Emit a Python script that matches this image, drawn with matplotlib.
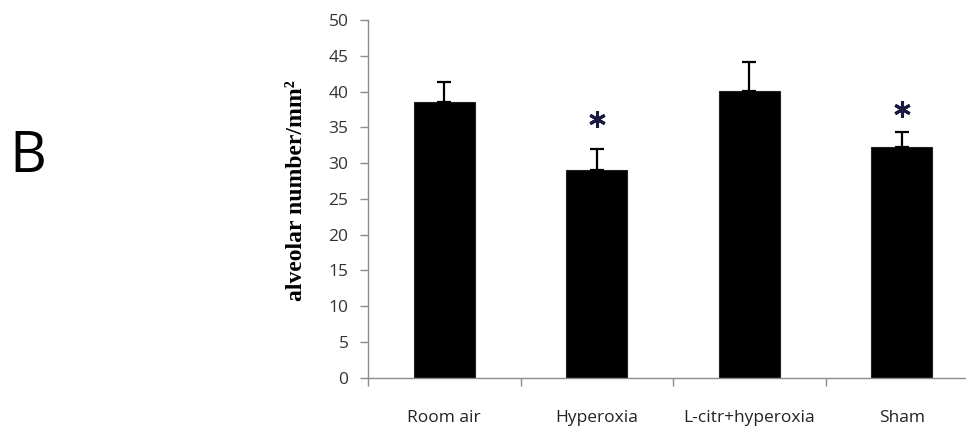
import numpy as np
import matplotlib.pyplot as plt
from matplotlib.ticker import FixedLocator, NullFormatter

groups = ['Room air', 'Hyperoxia', 'L-citr+hyperoxia', 'Sham']
means = [38.6, 29.1, 40.1, 32.3]
errs = [2.7, 2.9, 4.0, 2.0]
stars = [np.nan, 36.2, np.nan, 37.6]
yticks = np.arange(0, 51, 5)

plt.rcParams['font.family'] = ['Open Sans', 'DejaVu Sans']

fig = plt.figure(figsize=(9.66, 4.28), dpi=100)
ax = fig.add_axes([368/966, 50.3/428, 610/966, 357.7/428])

x = np.arange(len(groups)) + 0.5
ax.bar(x, means, width=0.4, color='black', edgecolor='#222222', linewidth=0.8, zorder=2)
ax.errorbar(x, means, yerr=[np.zeros(len(errs)), errs], fmt='none', ecolor='black',
            elinewidth=1.6, capsize=5, capthick=1.6, zorder=3)
ax.plot(x, stars, linestyle='none', marker=(6, 2, 0), markersize=12,
        markeredgewidth=2.2, color='#1a1a40', zorder=4)

ax.set_xlim(0, 4)
ax.set_ylim(0, 50)
ax.set_yticks(yticks)
ax.set_yticklabels([str(v) for v in yticks], fontsize=12.5, color='#333333')

ax.xaxis.set_major_locator(FixedLocator([0, 1, 2, 3, 4]))
ax.xaxis.set_major_formatter(NullFormatter())
ax.xaxis.set_minor_locator(FixedLocator(list(x)))
ax.set_xticklabels(groups, minor=True, fontsize=12.5, color='#222222')
ax.tick_params(axis='x', which='minor', length=0, pad=23)
ax.tick_params(axis='x', which='major', length=6, width=1, color='#8c8c8c', direction='out')
ax.tick_params(axis='y', length=6, width=1, color='#8c8c8c', direction='out', pad=8)

for s in ['top', 'right']:
    ax.spines[s].set_visible(False)
for s in ['left', 'bottom']:
    ax.spines[s].set_color('#8c8c8c')
    ax.spines[s].set_linewidth(1)

fig.text(296/966, 1 - 191/428, 'alveolar number/mm\u00b2', rotation=90, ha='center', va='center',
         fontsize=17, fontweight='bold', family=['Liberation Serif', 'DejaVu Serif'])
fig.text(27.5/966, 1 - 158/428, 'B', ha='center', va='center', fontsize=41)

fig.savefig('out.png', dpi=100)
